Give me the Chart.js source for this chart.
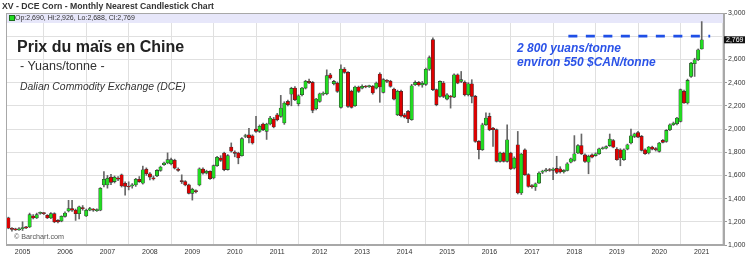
<!DOCTYPE html>
<html>
<head>
<meta charset="utf-8">
<title>DCE Corn - Monthly Nearest Candlestick Chart</title>
<script src="https://cdn.jsdelivr.net/npm/chart.js@4.4.1/dist/chart.umd.min.js"></script>
<style>
  html, body { margin: 0; padding: 0; background: #fff; }
  #wrap { position: relative; width: 750px; height: 271px; overflow: hidden; font-family: "Liberation Sans", Arial, sans-serif; }
  #chart { position: absolute; left: 0; top: 0; }
  .txt { position: absolute; white-space: nowrap; line-height: 1; }
  #title { left: 2px; top: 1.6px; font-size: 8.7px; font-weight: bold; color: #333; }
  #legend { left: 15px; top: 13.6px; font-size: 7px; color: #333; }
  #legend-box { position: absolute; left: 9px; top: 15px; width: 4px; height: 4px; background: #22dd22; border: 1px solid #1a6e1a; }
  #head { left: 17px; top: 38.8px; font-size: 16px; font-weight: bold; color: #222; }
  #unit { left: 20px; top: 60.1px; font-size: 12.5px; color: #333; }
  #source { left: 20px; top: 81.9px; font-size: 10.4px; font-style: italic; color: #333; }
  #credit { left: 14px; top: 232.6px; font-size: 7.2px; color: #555; }
  .note { left: 517px; font-size: 12px; font-weight: bold; font-style: italic; color: #2a52e8; }
  #note1 { top: 41.5px; }
  #note2 { top: 55.5px; }
</style>
</head>
<body>
<div id="wrap">
  <canvas id="chart" width="750" height="271"></canvas>
  <div class="txt" id="title">XV - DCE Corn - Monthly Nearest Candlestick Chart</div>
  <div id="legend-box"></div>
  <div class="txt" id="legend">Op:2,690, Hi:2,926, Lo:2,688, Cl:2,769</div>
  <div class="txt" id="head">Prix du maïs en Chine</div>
  <div class="txt" id="unit">- Yuans/tonne -</div>
  <div class="txt" id="source">Dalian Commodity Exchange (DCE)</div>
  <div class="txt" id="credit">© Barchart.com</div>
  <div class="txt note" id="note1">2 800 yuans/tonne</div>
  <div class="txt note" id="note2">environ 550 $CAN/tonne</div>
</div>
<script>
// monthly candles, first one is Sep 2004, last one Jan 2021
const firstYear = 2004;
const firstMonth = 9;

const opens = [
  1235, 1140, 1135, 1130,
  1140, 1150, 1155, 1250, 1233, 1272, 1275, 1256, 1233, 1270, 1212, 1206,
  1247, 1294, 1314, 1300, 1270, 1323, 1250, 1300, 1305, 1295, 1300, 1518,
  1518, 1585, 1547, 1576, 1605, 1532, 1505, 1510, 1518, 1567, 1532, 1654,
  1614, 1580, 1596, 1643, 1692, 1707, 1700, 1730, 1655, 1556, 1547, 1518,
  1445, 1468, 1518, 1655, 1620, 1635, 1578, 1684, 1750, 1793, 1650, 1845,
  1800, 1793, 1770, 1935, 1950, 1942, 2000, 1980, 2043, 1980, 2043, 2086,
  2123, 2109, 2052, 2238, 2300, 2353, 2218, 2296, 2353, 2411, 2402, 2175,
  2238, 2301, 2304, 2468, 2390, 2396, 2187, 2517, 2488, 2325, 2201, 2362,
  2353, 2368, 2365, 2368, 2353, 2474, 2316, 2416, 2411, 2345, 2123, 2325,
  2123, 2152, 2080, 2382, 2402, 2380, 2385, 2515, 2770, 2339, 2281, 2396,
  2258, 2281, 2275, 2468, 2410, 2402, 2295, 2390, 2281, 1893, 1821, 2037,
  2109, 2008, 1994, 1721, 1793, 1721, 1793, 1663, 1864, 1448, 1821, 1606,
  1512, 1500, 1534, 1628, 1640, 1648, 1644, 1660, 1657, 1632, 1643, 1714,
  1729, 1794, 1857, 1777, 1714, 1777, 1771, 1786, 1830, 1834, 1857, 1900,
  1827, 1821, 1735, 1827, 1879, 1936, 1970, 1936, 1821, 1793, 1844, 1832,
  1807, 1902, 1893, 1994, 2037, 2045, 2066, 2324, 2224, 2453, 2563, 2597,
  2690
];

const highs = [
  1240, 1150, 1145, 1150,
  1200, 1160, 1275, 1262, 1275, 1285, 1280, 1262, 1280, 1278, 1220, 1252,
  1285, 1385, 1385, 1310, 1335, 1340, 1310, 1325, 1315, 1312, 1495, 1634,
  1600, 1610, 1595, 1590, 1612, 1545, 1545, 1530, 1575, 1590, 1680, 1665,
  1625, 1595, 1650, 1680, 1715, 1794, 1750, 1740, 1665, 1605, 1555, 1525,
  1490, 1475, 1665, 1665, 1645, 1640, 1690, 1765, 1770, 1800, 1780, 1880,
  1812, 1800, 1925, 1955, 2005, 1950, 2110, 2035, 2050, 2050, 2110, 2100,
  2135, 2290, 2235, 2250, 2360, 2365, 2295, 2360, 2420, 2430, 2410, 2265,
  2310, 2320, 2510, 2480, 2420, 2405, 2554, 2530, 2495, 2335, 2370, 2370,
  2380, 2375, 2378, 2375, 2405, 2485, 2435, 2425, 2420, 2352, 2335, 2335,
  2135, 2160, 2385, 2415, 2410, 2410, 2525, 2630, 2785, 2345, 2415, 2410,
  2305, 2290, 2475, 2475, 2496, 2415, 2400, 2425, 2290, 1900, 2050, 2140,
  2137, 2015, 2000, 1800, 1800, 2037, 1800, 1760, 1979, 1790, 1830, 1615,
  1520, 1535, 1630, 1645, 1660, 1660, 1665, 1765, 1675, 1650, 1710, 1750,
  1943, 1865, 1957, 1785, 1775, 1785, 1795, 1835, 1845, 1855, 1957, 1910,
  1840, 1830, 1830, 1870, 2000, 1965, 1980, 1945, 1830, 1850, 1852, 1840,
  1885, 1910, 1995, 2045, 2060, 2100, 2345, 2335, 2430, 2575, 2610, 2690,
  2926
];

const lows = [
  1140, 1120, 1125, 1125,
  1125, 1140, 1150, 1225, 1228, 1265, 1262, 1228, 1228, 1192, 1190, 1200,
  1240, 1285, 1290, 1212, 1225, 1300, 1245, 1295, 1290, 1290, 1295, 1500,
  1490, 1520, 1535, 1555, 1500, 1430, 1475, 1490, 1505, 1540, 1525, 1600,
  1560, 1560, 1590, 1635, 1685, 1700, 1690, 1655, 1635, 1530, 1510, 1440,
  1387, 1450, 1510, 1610, 1612, 1565, 1570, 1678, 1720, 1640, 1645, 1800,
  1760, 1700, 1765, 1925, 1880, 1870, 1970, 1970, 1985, 1910, 2035, 2010,
  2070, 2100, 2040, 2200, 2200, 2245, 2200, 2285, 2345, 2390, 2140, 2165,
  2230, 2290, 2295, 2430, 2380, 2315, 2180, 2480, 2185, 2180, 2195, 2315,
  2345, 2355, 2358, 2300, 2345, 2230, 2310, 2400, 2360, 2250, 2115, 2105,
  2095, 2055, 2075, 2375, 2370, 2360, 2375, 2505, 2330, 2200, 2275, 2270,
  2250, 2180, 2270, 2390, 2400, 2285, 2285, 2225, 1885, 1741, 1815, 2030,
  1985, 1850, 1715, 1715, 1715, 1715, 1650, 1655, 1440, 1435, 1600, 1498,
  1490, 1470, 1530, 1615, 1630, 1635, 1563, 1615, 1620, 1620, 1638, 1708,
  1722, 1788, 1780, 1712, 1614, 1750, 1765, 1780, 1825, 1828, 1850, 1838,
  1730, 1683, 1730, 1820, 1872, 1925, 1925, 1810, 1780, 1785, 1820, 1810,
  1800, 1880, 1885, 1985, 2030, 2035, 2060, 2220, 2215, 2445, 2453, 2590,
  2688
];

const closes = [
  1145, 1135, 1130, 1140,
  1150, 1148, 1262, 1233, 1262, 1278, 1270, 1233, 1270, 1198, 1198, 1247,
  1276, 1314, 1300, 1270, 1329, 1314, 1300, 1314, 1300, 1306, 1489, 1567,
  1576, 1540, 1585, 1568, 1509, 1505, 1500, 1515, 1567, 1547, 1648, 1614,
  1585, 1570, 1643, 1672, 1707, 1736, 1736, 1663, 1643, 1547, 1518, 1445,
  1480, 1460, 1657, 1620, 1635, 1572, 1684, 1756, 1730, 1650, 1770, 1808,
  1790, 1750, 1917, 1943, 1925, 1880, 1980, 2023, 1995, 2043, 2095, 2017,
  2080, 2181, 2224, 2210, 2350, 2253, 2287, 2353, 2411, 2400, 2161, 2258,
  2304, 2310, 2460, 2440, 2410, 2325, 2517, 2488, 2195, 2187, 2362, 2325,
  2368, 2362, 2370, 2310, 2396, 2362, 2425, 2410, 2368, 2258, 2325, 2115,
  2103, 2086, 2373, 2402, 2380, 2395, 2515, 2615, 2340, 2210, 2410, 2281,
  2295, 2275, 2468, 2396, 2425, 2295, 2390, 2281, 1893, 1821, 2037, 2094,
  1994, 1994, 1721, 1793, 1721, 1907, 1655, 1750, 1448, 1784, 1606, 1505,
  1503, 1528, 1620, 1636, 1648, 1642, 1655, 1625, 1629, 1643, 1700, 1743,
  1786, 1857, 1786, 1720, 1766, 1757, 1786, 1829, 1838, 1848, 1914, 1843,
  1735, 1750, 1821, 1864, 1942, 1959, 1930, 1816, 1787, 1844, 1827, 1820,
  1879, 1885, 1988, 2037, 2051, 2094, 2339, 2224, 2419, 2568, 2597, 2683,
  2769
];

const yearLabels = ['2005', '2006', '2007', '2008', '2009', '2010', '2011', '2012', '2013',
  '2014', '2015', '2016', '2017', '2018', '2019', '2020', '2021'];
const priceTicks = [1000, 1200, 1400, 1600, 1800, 2000, 2200, 2400, 2600, 2800, 3000];

// blue dashed level, from ~Nov 2017 to ~Mar 2021 (month index)
const targetLevel = 2800;
const targetFrom = 158.3;
const targetTo = 198.4;

const UP = '#22dc22';
const DOWN = '#e00000';
const FONT = '"Liberation Sans", Arial, sans-serif';

const janIndex = (y) => (parseInt(y) - firstYear) * 12 + (1 - firstMonth);
const fmt = (v) => v.toLocaleString('en-US');

const bodies = opens.map((o, i) => ({ x: i, y: [o, closes[i]] }));
const wicks = lows.map((l, i) => ({ x: i, y: [l, highs[i]] }));
const bodyColors = opens.map((o, i) => closes[i] >= o ? UP : DOWN);

const chartDecor = {
  id: 'chartDecor',
  beforeDatasetsDraw(chart) {
    const { ctx, chartArea: a } = chart;
    ctx.save();
    ctx.fillStyle = '#e7e7fa';
    ctx.fillRect(a.left, a.top, a.right - a.left, 10);
    ctx.restore();
  },
  afterDraw(chart) {
    const { ctx, chartArea: a } = chart;
    ctx.save();
    ctx.strokeStyle = '#a8a8a8';
    ctx.lineWidth = 1;
    ctx.strokeRect(a.left + 0.5, a.top + 0.5, a.right - a.left - 1, a.bottom - a.top - 1);

    // last price tag on the right axis
    const last = closes[closes.length - 1];
    const py = chart.scales.y.getPixelForValue(last);
    ctx.fillStyle = '#111';
    ctx.fillRect(a.right, py - 3.5, 21, 7);
    ctx.fillStyle = '#fff';
    ctx.font = '7px ' + FONT;
    ctx.textBaseline = 'middle';
    ctx.fillText(fmt(last), a.right + 2, py + 0.5);
    ctx.restore();
  }
};

const ctx = document.getElementById('chart').getContext('2d');
new Chart(ctx, {
  type: 'bar',
  data: {
    datasets: [
      {
        type: 'line',
        data: [{ x: targetFrom, y: targetLevel }, { x: targetTo, y: targetLevel }],
        borderColor: '#1f4fe6',
        borderWidth: 2.8,
        borderDash: [9, 8.5],
        pointRadius: 0,
        order: 0
      },
      {
        data: bodies,
        backgroundColor: bodyColors,
        borderColor: '#333',
        borderWidth: 0.6,
        borderSkipped: false,
        barThickness: 3.4,
        minBarLength: 1,
        grouped: false,
        order: 1
      },
      {
        data: wicks,
        backgroundColor: '#666',
        barThickness: 1,
        grouped: false,
        order: 2
      }
    ]
  },
  options: {
    responsive: false,
    animation: false,
    devicePixelRatio: 1,
    layout: { padding: { left: 6, top: 13, right: 0, bottom: 0 } },
    plugins: { legend: { display: false }, tooltip: { enabled: false } },
    scales: {
      x: {
        type: 'linear',
        min: -0.68,
        max: 202.3,
        offset: false,
        afterBuildTicks: (s) => { s.ticks = yearLabels.map(y => ({ value: janIndex(y) })); },
        afterFit: (s) => { s.height = 26; },
        ticks: {
          autoSkip: false,
          maxRotation: 0,
          padding: 3,
          color: '#333',
          font: { family: FONT, size: 7 },
          callback: (v, i) => yearLabels[i]
        },
        grid: { color: '#e0e0e0', drawTicks: false },
        border: { color: '#a8a8a8' }
      },
      y: {
        position: 'right',
        min: 1000,
        max: 3000,
        afterBuildTicks: (s) => { s.ticks = priceTicks.map(v => ({ value: v })); },
        afterFit: (s) => { s.width = 26; },
        ticks: {
          padding: 1,
          color: '#333',
          font: { family: FONT, size: 7 },
          callback: (v) => v === 2800 ? '' : fmt(v)
        },
        grid: { color: '#e0e0e0', tickLength: 3, tickColor: '#999' },
        border: { color: '#a8a8a8' }
      }
    }
  },
  plugins: [chartDecor]
});
</script>
</body>
</html>
